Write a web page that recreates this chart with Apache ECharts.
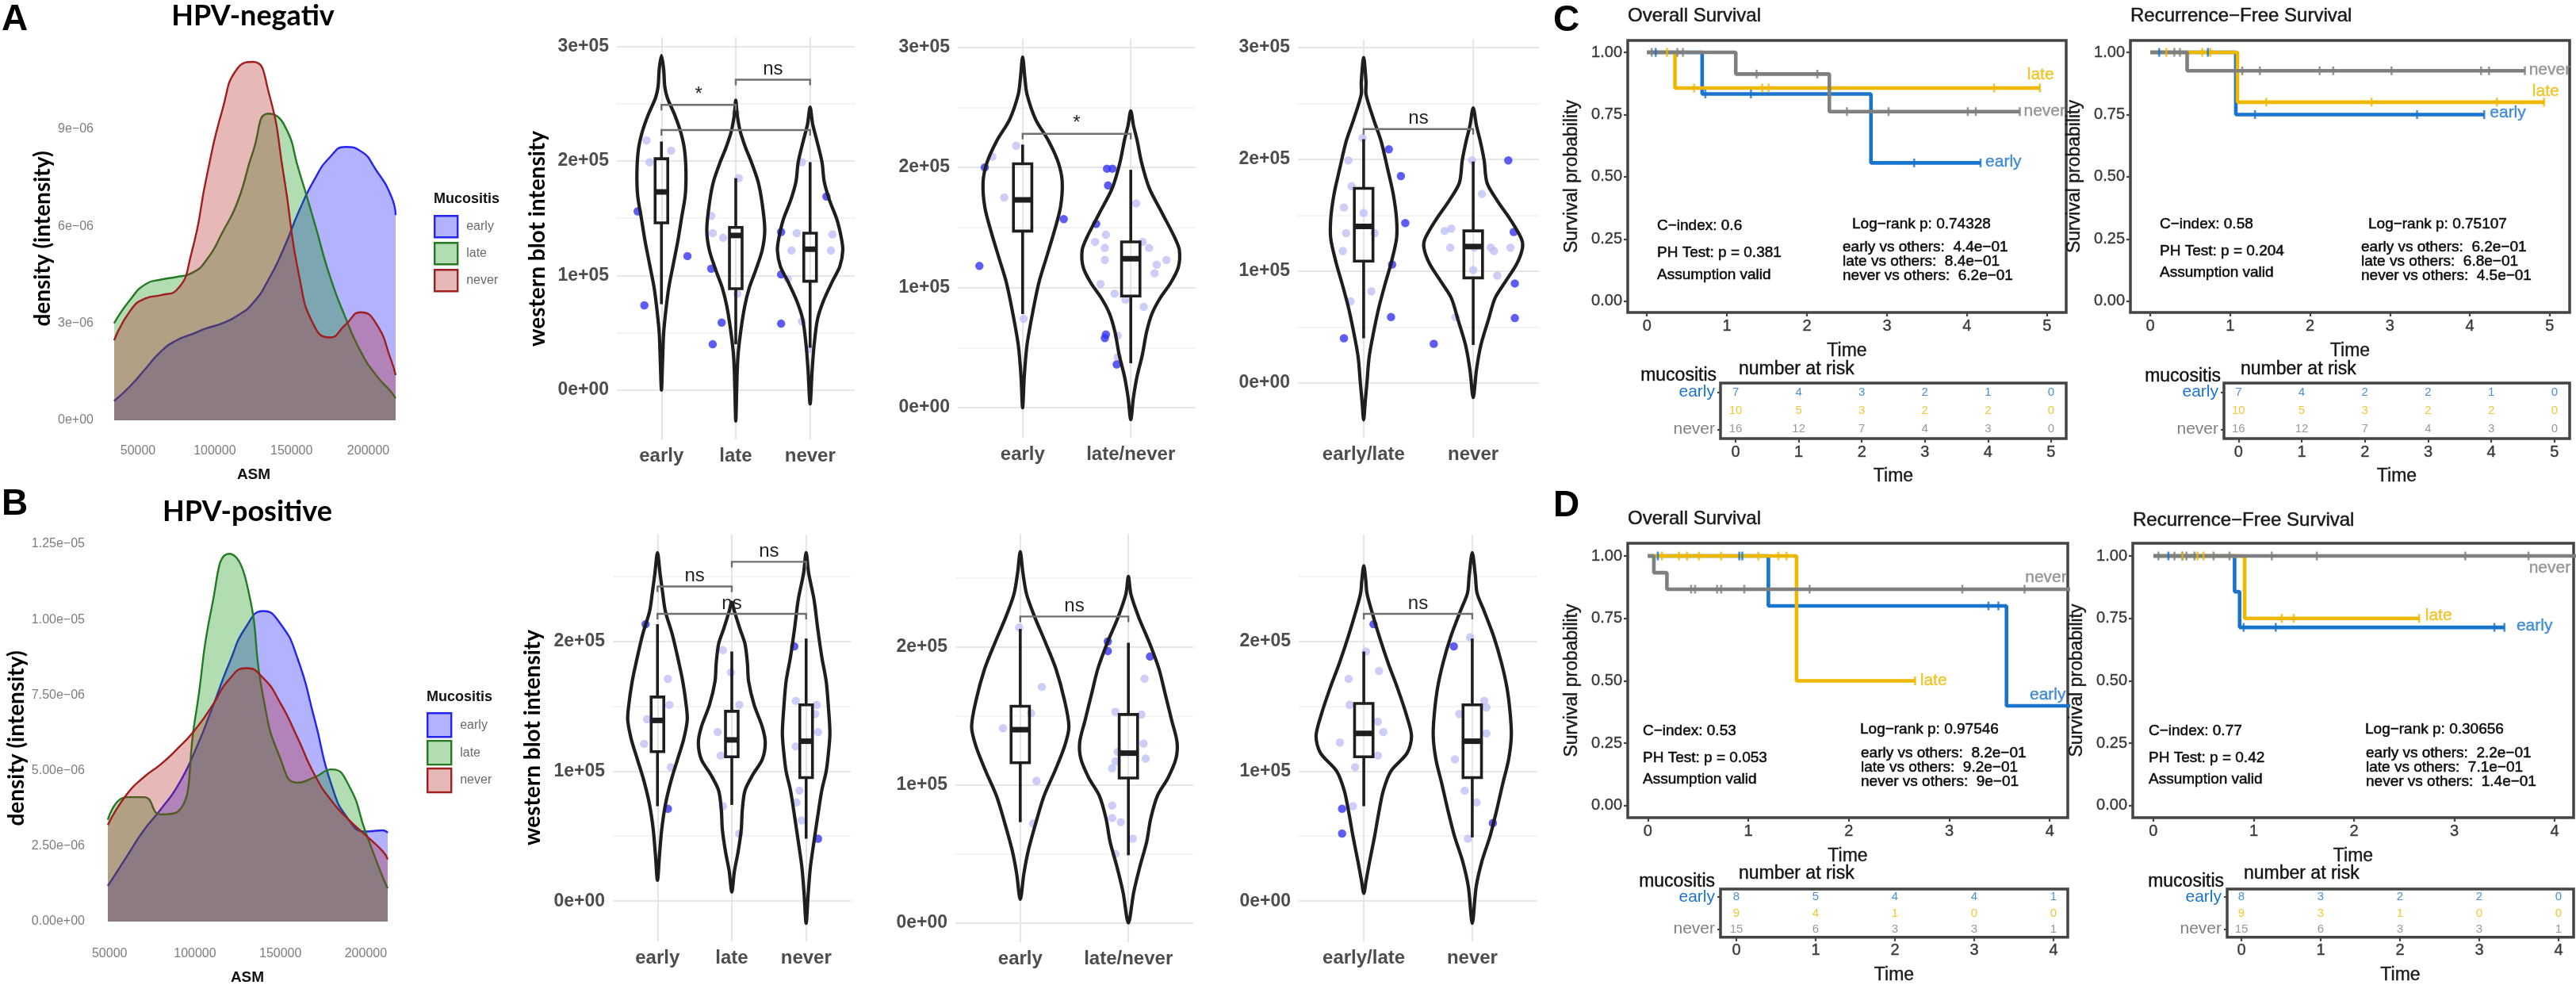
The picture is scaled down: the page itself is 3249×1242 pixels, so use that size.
<!DOCTYPE html>
<html><head><meta charset="utf-8">
<script src="https://cdn.jsdelivr.net/npm/echarts@6/dist/echarts.min.js"></script>
<style>html,body{margin:0;padding:0;background:#fff}#c{width:3249px;height:1242px}</style>
</head><body><div id="c"></div>
<script>
// ================= DATA =================
const mucoCats = ['early','late','never'];
// --- density (values in units of 1e-6) ---
const densXTicks = [50000,100000,150000,200000];
const densAx = [34500,45000,55000,65000,75000,85000,95000,105000,115000,125000,135000,145000,155000,165000,175000,185000,195000,205000,215000,217800];
const densA_early = [0.60,1.06,1.60,2.13,2.47,2.66,2.85,3.00,3.24,3.63,4.35,5.32,6.48,7.45,8.13,8.45,8.32,7.74,6.92,6.34];
const densA_late  = [3.00,3.73,4.21,4.35,4.43,4.55,4.98,5.81,6.77,8.32,9.48,9.15,7.69,6.10,4.45,3.19,2.13,1.40,0.87,0.68];
const densA_never = [2.47,3.39,3.77,3.87,4.02,5.20,7.60,9.60,10.89,11.08,10.16,7.55,4.45,2.90,2.56,2.95,3.34,3.00,1.84,1.40];
const densAyTicks = [0,3,6,9];
const densBx = [48970,60000,70000,80000,90000,100000,110000,120000,130000,140000,150000,160000,170000,180000,190000,200000,210000,212800];
const densB_early = [1.18,2.15,3.02,3.72,4.51,5.65,7.06,8.55,9.77,10.28,9.86,8.72,6.70,4.51,3.37,2.98,3.02,2.94];
const densB_late  = [3.37,4.12,4.12,3.55,3.64,6.70,10.47,12.18,11.26,7.41,5.39,4.60,4.78,5.04,4.51,2.94,1.45,1.10];
const densB_never = [3.20,4.21,4.78,5.21,5.74,6.35,7.14,8.02,8.39,8.06,7.23,6.09,4.86,3.99,3.37,2.85,2.32,2.06];
const densByTicks = [0,2.5,5,7.5,10,12.5];

// --- violins (y in units of 1e5, half-width in category units) ---
const violinYTicks = [0,1,2,3];
const vA1_cats = ['early','late','never'];
const vA1_early = [[2.92,0],[2.80,0.03],[2.65,0.045],[2.55,0.08],[2.40,0.18],[2.25,0.26],[2.10,0.31],[1.90,0.33],[1.70,0.32],[1.50,0.27],[1.30,0.22],[1.10,0.16],[0.90,0.10],[0.70,0.06],[0.50,0.03],[0.25,0.015],[0.00,0]];
const vA1_late = [[2.53,0],[2.40,0.02],[2.26,0.06],[2.12,0.13],[1.99,0.21],[1.82,0.30],[1.63,0.355],[1.40,0.39],[1.22,0.355],[1.05,0.27],[0.89,0.18],[0.73,0.12],[0.53,0.07],[0.34,0.035],[0.18,0.02],[0.00,0.012],[-0.27,0]];
const vA1_never = [[2.47,0],[2.32,0.035],[2.18,0.09],[1.99,0.16],[1.82,0.19],[1.66,0.26],[1.49,0.36],[1.33,0.42],[1.22,0.44],[1.08,0.40],[0.95,0.30],[0.78,0.18],[0.62,0.10],[0.40,0.055],[0.18,0.028],[-0.12,0]];
const vA1_box = [[0.75,1.46,1.73,2.02,2.17],[0.40,0.885,1.35,1.42,1.85],[0.37,0.95,1.23,1.37,1.99]];
const vA1_dark = [[0.68,1.56],[0.77,0.74],[1.35,1.17],[1.67,1.06],[1.69,0.40],[1.81,0.59],[2.61,1.38],[2.61,1.01],[2.61,0.58],[3.22,1.69]];
const vA1_light = [[0.80,2.18],[0.84,1.99],[1.13,2.09],[1.67,1.52],[1.69,1.37],[1.83,1.33],[2.04,1.85],[2.02,0.84],[2.00,2.42],[2.82,1.37],[2.75,1.22],[2.89,1.99],[2.89,0.60],[3.00,0.36],[3.30,1.36],[3.28,1.22],[2.70,0.97]];
const vA1_brackets = [[1,2,2.49,'*'],[2,3,2.71,'ns'],[1,3,2.27,'']];

const vA2_cats = ['early','late/never'];
const vA2_early = [[2.92,0],[2.75,0.02],[2.61,0.04],[2.40,0.12],[2.22,0.24],[2.04,0.33],[1.88,0.366],[1.67,0.35],[1.46,0.29],[1.25,0.22],[1.04,0.15],[0.78,0.09],[0.52,0.04],[0.26,0.015],[0.00,0]];
const vA2_latenever = [[2.47,0],[2.35,0.025],[2.22,0.06],[2.04,0.10],[1.83,0.17],[1.62,0.29],[1.41,0.41],[1.31,0.45],[1.17,0.44],[1.04,0.37],[0.91,0.27],[0.78,0.195],[0.63,0.146],[0.44,0.107],[0.26,0.058],[0.08,0.024],[-0.10,0]];
const vA2_box = [[0.78,1.47,1.73,2.03,2.19],[0.37,0.93,1.24,1.38,1.98]];
const vA2_dark = [[0.65,2.00],[0.60,1.18],[1.38,1.57],[1.78,1.99],[1.83,1.99],[1.79,1.85],[1.68,1.53],[1.77,0.61],[1.76,0.58],[1.87,0.36]];
const vA2_light = [[0.94,2.18],[0.72,2.09],[0.83,1.75],[1.01,0.74],[1.67,1.38],[1.77,1.44],[1.76,1.33],[1.76,1.23],[1.72,1.03],[1.85,0.95],[1.95,0.90],[2.05,1.70],[2.12,0.84],[2.17,1.33],[2.24,1.19],[2.33,1.23],[2.22,1.12],[1.88,0.60],[1.88,0.42],[2.11,1.38]];
const vA2_brackets = [[1,2,2.28,'*']];

const vA3_cats = ['early/late','never'];
const vA3_earlylate = [[2.91,0],[2.69,0.022],[2.58,0.022],[2.36,0.09],[2.16,0.16],[1.91,0.22],[1.69,0.27],[1.47,0.30],[1.29,0.30],[1.07,0.25],[0.90,0.20],[0.68,0.14],[0.45,0.09],[0.23,0.05],[0.00,0.03],[-0.16,0.015],[-0.33,0]];
const vA3_never = [[2.46,0],[2.30,0.03],[2.16,0.065],[1.99,0.10],[1.79,0.126],[1.63,0.22],[1.46,0.34],[1.29,0.44],[1.21,0.45],[1.07,0.40],[0.90,0.29],[0.76,0.20],[0.57,0.14],[0.34,0.07],[0.12,0.03],[-0.13,0]];
const vA3_box = [[0.40,1.09,1.40,1.74,2.18],[0.34,0.94,1.22,1.36,1.98]];
const vA3_dark = [[1.23,2.09],[1.34,1.85],[1.38,1.43],[1.26,1.06],[1.25,0.59],[1.64,0.35],[2.32,1.99],[2.37,1.35],[2.38,0.89],[2.38,0.58],[0.82,0.40]];
const vA3_light = [[0.86,1.99],[0.82,1.57],[0.84,1.34],[0.81,1.18],[0.88,0.73],[0.99,2.19],[0.89,1.76],[1.00,1.52],[1.10,1.34],[1.07,0.82],[1.74,1.36],[1.80,1.38],[1.79,1.21],[1.84,0.59],[1.99,1.99],[2.08,1.69],[2.01,1.21],[2.00,1.01],[2.16,1.21],[2.19,1.18],[2.22,0.96],[2.34,1.21]];
const vA3_brackets = [[1,2,2.27,'ns']];

const vB1_cats = ['early','late','never'];
const vB1_early = [[2.68,0],[2.52,0.035],[2.37,0.07],[2.23,0.106],[2.05,0.20],[1.88,0.27],[1.69,0.34],[1.49,0.39],[1.39,0.40],[1.24,0.35],[1.09,0.27],[0.92,0.18],[0.74,0.106],[0.55,0.057],[0.36,0.028],[0.16,0]];
const vB1_late = [[2.30,0],[2.23,0.035],[2.10,0.106],[1.98,0.177],[1.83,0.21],[1.69,0.226],[1.51,0.30],[1.34,0.41],[1.22,0.45],[1.09,0.41],[0.97,0.28],[0.85,0.177],[0.70,0.141],[0.55,0.127],[0.38,0.085],[0.23,0.035],[0.07,0]];
const vB1_never = [[2.68,0],[2.52,0.035],[2.32,0.106],[2.10,0.155],[1.88,0.21],[1.69,0.27],[1.49,0.30],[1.29,0.32],[1.14,0.30],[1.00,0.27],[0.85,0.21],[0.65,0.155],[0.46,0.106],[0.26,0.057],[0.06,0.028],[-0.17,0]];
const vB1_box = [[0.73,1.15,1.39,1.57,2.13],[0.74,1.11,1.24,1.46,1.92],[0.48,0.95,1.23,1.51,2.02]];
const vB1_dark = [[0.84,2.13],[1.14,0.71],[2.84,1.96],[3.16,0.48]];
const vB1_light = [[1.14,1.71],[1.16,1.51],[0.86,1.40],[0.82,1.21],[1.18,1.03],[1.88,1.93],[1.99,1.76],[2.10,1.51],[1.81,1.30],[1.85,1.12],[1.88,0.73],[2.10,0.52],[2.86,1.54],[3.14,1.51],[3.12,1.44],[3.16,1.30],[2.86,1.19],[2.91,0.85],[2.87,0.76],[2.94,0.62]];
const vB1_brackets = [[1,2,2.42,'ns'],[2,3,2.61,'ns'],[1,3,2.21,'ns']];

const vB2_cats = ['early','late/never'];
const vB2_early = [[2.69,0],[2.54,0.024],[2.38,0.059],[2.21,0.137],[2.03,0.234],[1.84,0.33],[1.61,0.41],[1.42,0.45],[1.28,0.41],[1.10,0.32],[0.92,0.22],[0.73,0.146],[0.52,0.073],[0.36,0.034],[0.17,0]];
const vB2_latenever = [[2.51,0],[2.38,0.024],[2.21,0.098],[2.03,0.195],[1.84,0.283],[1.66,0.34],[1.47,0.40],[1.31,0.45],[1.19,0.44],[1.05,0.366],[0.92,0.268],[0.75,0.205],[0.59,0.17],[0.41,0.107],[0.22,0.049],[0.00,0]];
const vB2_box = [[0.73,1.16,1.40,1.57,2.13],[0.49,1.05,1.23,1.51,2.03]];
const vB2_dark = [[1.81,2.04],[1.81,1.97],[2.20,1.93]];
const vB2_light = [[0.99,2.14],[1.20,1.71],[1.10,1.52],[0.84,1.41],[1.15,1.03],[1.12,0.72],[2.15,1.77],[1.88,1.53],[2.12,1.51],[2.14,1.30],[1.90,1.24],[2.16,1.19],[1.88,1.17],[1.85,1.12],[1.85,0.85],[1.85,0.76],[1.93,0.73],[2.04,0.61],[1.88,0.50]];
const vB2_brackets = [[1,2,2.22,'ns']];

const vB3_cats = ['early/late','never'];
const vB3_earlylate = [[2.58,0],[2.47,0.018],[2.37,0.029],[2.23,0.073],[2.03,0.145],[1.83,0.225],[1.64,0.31],[1.44,0.39],[1.27,0.44],[1.14,0.40],[1.00,0.25],[0.85,0.18],[0.68,0.138],[0.50,0.10],[0.31,0.055],[0.16,0.022],[0.06,0]];
const vB3_never = [[2.68,0],[2.50,0.029],[2.37,0.044],[2.23,0.11],[2.03,0.20],[1.83,0.27],[1.64,0.32],[1.44,0.35],[1.27,0.36],[1.09,0.335],[0.90,0.28],[0.70,0.225],[0.50,0.164],[0.31,0.09],[0.11,0.036],[-0.17,0]];
const vB3_box = [[0.73,1.11,1.29,1.52,1.92],[0.49,0.95,1.23,1.51,2.02]];
const vB3_dark = [[1.09,2.13],[1.83,1.96],[2.19,0.60],[0.80,0.71],[0.80,0.52]];
const vB3_light = [[1.02,1.92],[1.14,1.77],[0.86,1.71],[0.87,1.51],[1.13,1.38],[1.18,1.30],[1.13,1.12],[0.92,1.03],[0.90,0.73],[0.78,1.22],[1.98,2.03],[1.88,1.44],[2.11,1.54],[2.13,1.49],[2.13,1.29],[1.84,1.09],[1.93,0.85],[2.04,0.76],[1.96,0.48]];
const vB3_brackets = [[1,2,2.21,'ns']];

// --- Kaplan-Meier curves [time, survival] ---
const kmYTicks = [0,0.25,0.5,0.75,1];
const kmXTicks5 = [0,1,2,3,4,5];
const kmXTicks4 = [0,1,2,3,4];
const cOS_early = [[0,1],[0.69,0.833],[2.80,0.556],[4.17,0.556]];
const cOS_late = [[0,1],[0.35,0.857],[4.91,0.857]];
const cOS_never = [[0,1],[1.11,0.913],[2.28,0.762],[4.66,0.762]];
const cOS_early_c = [[0.11,1],[0.73,0.833],[1.30,0.833],[3.34,0.556],[4.17,0.556]];
const cOS_late_c = [[0.25,1],[0.59,0.857],[1.44,0.857],[1.52,0.857],[4.34,0.857],[4.91,0.857]];
const cOS_never_c = [[0.06,1],[0.38,1],[0.45,1],[1.37,0.913],[2.13,0.913],[2.50,0.762],[3.02,0.762],[4.01,0.762],[4.11,0.762],[4.66,0.762]];
const cOS_labels = [[4.92,0.911,'late','center'],[4.71,0.764,'never','left'],[4.23,0.561,'early','left']];
const cOS_stats = ['C\u2212index: 0.6','PH Test: p = 0.381','Assumption valid','Log\u2212rank p: 0.74328','early vs others:  4.4e\u221201','late vs others:  8.4e\u221201','never vs others:  6.2e\u221201'];

const cRFS_early = [[0,1],[1.07,0.75],[4.18,0.75]];
const cRFS_late = [[0,1],[1.09,0.80],[4.93,0.80]];
const cRFS_never = [[0,1],[0.46,0.926],[4.69,0.926]];
const cRFS_early_c = [[0.11,1],[0.72,1],[1.31,0.75],[3.34,0.75],[4.18,0.75]];
const cRFS_late_c = [[0.20,1],[0.65,1],[0.75,1],[1.45,0.80],[2.77,0.80],[4.34,0.80],[4.93,0.80]];
const cRFS_never_c = [[0.30,1],[0.37,1],[1.15,0.926],[1.37,0.926],[2.12,0.926],[2.29,0.926],[3.02,0.926],[4.14,0.926],[4.24,0.926],[4.69,0.926]];
const cRFS_labels = [[4.74,0.93,'never','left'],[4.95,0.845,'late','center'],[4.25,0.758,'early','left']];
const cRFS_stats = ['C\u2212index: 0.58','PH Test: p = 0.204','Assumption valid','Log\u2212rank p: 0.75107','early vs others:  6.2e\u221201','late vs others:  6.8e\u221201','never vs others:  4.5e\u221201'];

const dOS_early = [[0,1],[1.20,0.8],[3.57,0.4],[4.4,0.4]];
const dOS_late = [[0,1],[1.48,0.5],[2.66,0.5]];
const dOS_never = [[0,1],[0.06,0.933],[0.19,0.867],[4.4,0.867]];
const dOS_early_c = [[0.10,1],[0.91,1],[0.94,1],[3.39,0.8],[3.49,0.8]];
const dOS_late_c = [[0.14,1],[0.31,1],[0.39,1],[0.51,1],[0.73,1],[1.10,1],[1.30,1],[1.38,1],[2.66,0.5]];
const dOS_never_c = [[0.43,0.867],[0.47,0.867],[0.69,0.867],[0.73,0.867],[0.96,0.867],[1.61,0.867],[3.13,0.867],[3.75,0.867]];
const dOS_labels = [[4.17,0.915,'never','right'],[4.16,0.445,'early','right'],[2.71,0.50,'late','left']];
const dOS_stats = ['C\u2212index: 0.53','PH Test: p = 0.053','Assumption valid','Log\u2212rank p: 0.97546','early vs others:  8.2e\u221201','late vs others:  9.2e\u221201','never vs others:  9e\u221201'];

const dRFS_early = [[0,1],[0.81,0.857],[0.86,0.714],[3.50,0.714]];
const dRFS_late = [[0,1],[0.91,0.75],[2.65,0.75]];
const dRFS_never = [[0,1],[4.4,1]];
const dRFS_early_c = [[0.15,1],[0.29,1],[0.90,0.714],[1.22,0.714],[3.40,0.714],[3.50,0.714]];
const dRFS_late_c = [[0.29,1],[0.44,1],[0.50,1],[1.28,0.75],[1.40,0.75],[2.65,0.75]];
const dRFS_never_c = [[0.05,1],[0.21,1],[0.33,1],[0.41,1],[0.60,1],[0.76,1],[1.18,1],[1.63,1],[3.11,1],[3.74,1]];
const dRFS_labels = [[4.16,0.953,'never','right'],[2.71,0.76,'late','left'],[3.62,0.72,'early','left']];
const dRFS_stats = ['C\u2212index: 0.77','PH Test: p = 0.42','Assumption valid','Log\u2212rank p: 0.30656','early vs others:  2.2e\u221201','late vs others:  7.1e\u221201','never vs others:  1.4e\u221201'];

// --- number at risk ---
const riskC_OS = {early:[7,4,3,2,1,0], late:[10,5,3,2,2,0], never:[16,12,7,4,3,0]};
const riskC_RFS = {early:[7,4,2,2,1,0], late:[10,5,3,2,2,0], never:[16,12,7,4,3,0]};
const riskD_OS = {early:[8,5,4,4,1], late:[9,4,1,0,0], never:[15,6,3,3,1]};
const riskD_RFS = {early:[8,3,2,2,0], late:[9,3,1,0,0], never:[15,6,3,3,1]};

// ================= STYLE / BUILD =================
const FF = 'Liberation Sans';
const KMC = {early:'#1874CD', late:'#EFB800', never:'#7F7F7F'};
const DC = {early:{line:'#2424EE', fill:'rgba(0,0,255,0.30)'}, late:{line:'#237A23', fill:'rgba(0,140,0,0.30)'}, never:{line:'#A21E1E', fill:'rgba(178,34,34,0.32)'}};

const grids=[], xAxes=[], yAxes=[], series=[], graphics=[], legends=[];
function addGrid(box, xa, ya){
  grids.push(Object.assign({left:box[0], top:box[1], width:box[2], height:box[3], containLabel:false}, box[4]||{}));
  const i = grids.length-1;
  xAxes.push(Object.assign({gridIndex:i, type:'value', axisLine:{show:false,onZero:false}, splitLine:{show:false}, axisTick:{show:false}}, xa));
  yAxes.push(Object.assign({gridIndex:i, type:'value', axisLine:{show:false,onZero:false}, splitLine:{show:false}, axisTick:{show:false}}, ya));
  return i;
}
function txt(x,y,text,font,fill,align,vAlign,rot,strokeW){
  const st = {text:text, font:font, fill:fill||'#000', align:align||'left', verticalAlign:vAlign||'middle', textAlign:align||'left', textVerticalAlign:vAlign||'middle'};
  if (strokeW) { st.stroke = fill||'#000'; st.lineWidth = strokeW; }
  const e = {type:'text', x:x, y:y, z:100, silent:true, style:st};
  if (rot) e.rotation = rot;
  graphics.push(e);
}

// ---------- density panels ----------
function densityPanel(box, xs, sets, yMax, yTicks, yFmt, xMarg, yMarg){
  const gi = addGrid(box,
    {min:xs[0], max:xs[xs.length-1], axisLabel:{customValues:densXTicks, margin:xMarg, color:'#7d7d7d', fontSize:16, fontFamily:FF, formatter:v=>String(v)}},
    {min:0, max:yMax, axisLabel:{customValues:yTicks, margin:yMarg, color:'#7d7d7d', fontSize:16, fontFamily:FF, formatter:yFmt}});
  mucoCats.forEach((c,k)=>{
    series.push({name:c, type:'line', xAxisIndex:gi, yAxisIndex:gi, smooth:0.55, showSymbol:false, symbol:'none', z:2+k,
      lineStyle:{color:DC[c].line, width:2.4}, itemStyle:{color:DC[c].line}, areaStyle:{color:DC[c].fill, opacity:1},
      data: xs.map((x,j)=>[x, sets[k][j]])});
  });
}
densityPanel([144,51,355,479], densAx, [densA_early,densA_late,densA_never], 11.74, densAyTicks,
  v => v===0 ? '0e+00' : v+'e\u221206', 31, 26);
densityPanel([136,675,353,487], densBx, [densB_early,densB_late,densB_never], 12.79, densByTicks,
  v => (v*1e-6).toExponential(2).replace(/e([+-])(\d)$/, (m,s,d)=>'e'+(s==='-'?'\u2212':'+')+'0'+d), 33, 29);

function densLegend(left, top, w, h, gap){
  legends.push({left:left, top:top, orient:'vertical', itemWidth:w, itemHeight:h, itemGap:gap, padding:0, selectedMode:false,
    textStyle:{fontSize:16, color:'#6a6a6a', fontFamily:FF, padding:[0,0,0,6]},
    data: mucoCats.map(c=>({name:c, icon:'rect', itemStyle:{color:DC[c].fill, borderColor:DC[c].line, borderWidth:2.4}}))});
}
densLegend(547, 271, 29, 27, 4.6);
densLegend(538, 898, 30, 30, 2.5);

// ---------- violin panels ----------
function violinRender(profiles, boxes, bw){
  return function(params, api){
    const i = params.dataIndex, cx = i+1, prof = profiles[i], b = boxes[i];
    const pts = [];
    for (const [y,hw] of prof) pts.push(api.coord([cx+hw,y]));
    for (let k=prof.length-2;k>=1;k--) pts.push(api.coord([cx-prof[k][1], prof[k][0]]));
    const p = (x,y)=>api.coord([x,y]);
    const tl = p(cx-bw,b[3]), br = p(cx+bw,b[1]);
    const q3 = p(cx,b[3]), hi = p(cx,b[4]), q1 = p(cx,b[1]), lo = p(cx,b[0]);
    const ml = p(cx-bw,b[2]), mr = p(cx+bw,b[2]);
    const S = {stroke:'#1e1e1e', lineWidth:4.2, fill:'none'};
    const SB = {stroke:'#1e1e1e', lineWidth:3.6, fill:'none'};
    return {type:'group', children:[
      {type:'polygon', shape:{points:pts, smooth:0.3}, style:S},
      {type:'line', shape:{x1:q3[0],y1:q3[1],x2:hi[0],y2:hi[1]}, style:SB},
      {type:'line', shape:{x1:q1[0],y1:q1[1],x2:lo[0],y2:lo[1]}, style:SB},
      {type:'rect', shape:{x:tl[0],y:tl[1],width:br[0]-tl[0],height:br[1]-tl[1]}, style:SB},
      {type:'line', shape:{x1:ml[0],y1:ml[1],x2:mr[0],y2:mr[1]}, style:{stroke:'#1e1e1e', lineWidth:7}}
    ]};
  };
}
function bracketRender(brs){
  return function(params, api){
    const b = brs[params.dataIndex];
    const a = api.coord([b[0],b[2]]), c = api.coord([b[1],b[2]]), tip = 7;
    const ch = [{type:'polyline', shape:{points:[[a[0],a[1]+tip],a,c,[c[0],c[1]+tip]]}, style:{stroke:'#707070', lineWidth:2.4, fill:'none'}}];
    if (b[3]) ch.push({type:'text', x:(a[0]+c[0])/2, y:a[1]-1, style:{text:b[3], fill:'#222', font:'24px "'+FF+'"', align:'center', verticalAlign:'bottom'}});
    return {type:'group', children:ch};
  };
}
function violinPanel(box, cats, yMin, yMax, profiles, boxes, dark, light, brackets){
  const n = cats.length;
  const ticks = violinYTicks.filter(v=>v<=yMax);
  const gi = addGrid(box,
    {min:0.4, max:n+0.6, axisLabel:{customValues:cats.map((c,i)=>i+1), formatter:v=>cats[Math.round(v)-1], margin:9, color:'#4d4d4d', fontSize:24, fontWeight:'bold', fontFamily:FF}},
    {min:yMin, max:yMax, axisLabel:{customValues:ticks, formatter:v=> v===0?'0e+00':v+'e+05', margin:10, color:'#4d4d4d', fontSize:23, fontWeight:'bold', fontFamily:FF}});
  const ml = [];
  ticks.forEach(v=>ml.push({yAxis:v, lineStyle:{color:'#e6e6e6', width:2.2, type:'solid'}}));
  [0.5,1.5,2.5].filter(v=>v<yMax && v>yMin).forEach(v=>ml.push({yAxis:v, lineStyle:{color:'#f0f0f0', width:1.6, type:'solid'}}));
  cats.forEach((c,i)=>ml.push({xAxis:i+1, lineStyle:{color:'#e6e6e6', width:2.2, type:'solid'}}));
  series.push({type:'scatter', name:'grid'+gi, xAxisIndex:gi, yAxisIndex:gi, data:[[1,0]], symbolSize:0, silent:true, z:1,
    itemStyle:{color:'rgba(0,0,0,0)'},
    markLine:{silent:true, z:0, symbol:['none','none'], animation:false, label:{show:false}, data:ml}});
  series.push({type:'scatter', name:'lt'+gi, xAxisIndex:gi, yAxisIndex:gi, data:light, symbolSize:10.5, z:2, itemStyle:{color:'#c0c0f8'}});
  series.push({type:'scatter', name:'dk'+gi, xAxisIndex:gi, yAxisIndex:gi, data:dark, symbolSize:10.5, z:2, itemStyle:{color:'#3434f2'}});
  series.push({type:'custom', name:'vio'+gi, xAxisIndex:gi, yAxisIndex:gi, z:6, clip:false, data:cats.map((c,i)=>[i+1,0]),
    renderItem:violinRender(profiles, boxes, 0.085)});
  series.push({type:'custom', name:'br'+gi, xAxisIndex:gi, yAxisIndex:gi, z:7, clip:false, data:brackets.map((b,i)=>[b[0],b[2]]),
    renderItem:bracketRender(brackets)});
}
violinPanel([778,47,300,507], vA1_cats, -0.43, 3.08, [vA1_early,vA1_late,vA1_never], vA1_box, vA1_dark, vA1_light, vA1_brackets);
violinPanel([1208,49,300,503], vA2_cats, -0.25, 3.07, [vA2_early,vA2_latenever], vA2_box, vA2_dark, vA2_light, vA2_brackets);
violinPanel([1637,50,304,502], vA3_cats, -0.49, 3.07, [vA3_earlylate,vA3_never], vA3_box, vA3_dark, vA3_light, vA3_brackets);
violinPanel([773,674,300,513], vB1_cats, -0.31, 2.82, [vB1_early,vB1_late,vB1_never], vB1_box, vB1_dark, vB1_light, vB1_brackets);
violinPanel([1205,673,300,515], vB2_cats, -0.14, 2.82, [vB2_early,vB2_latenever], vB2_box, vB2_dark, vB2_light, vB2_brackets);
violinPanel([1638,674,301,513], vB3_cats, -0.31, 2.82, [vB3_earlylate,vB3_never], vB3_box, vB3_dark, vB3_light, vB3_brackets);

// ---------- KM panels ----------
const tickStyle = {show:true, length:5, lineStyle:{color:'#444', width:2.2}};
const lblTS = {fontSize:20, color:'#3a3a3a', fontFamily:FF, textBorderColor:'#3a3a3a', textBorderWidth:0.4};
const nameTS = {fontSize:23, color:'#1a1a1a', fontFamily:FF, textBorderColor:'#1a1a1a', textBorderWidth:0.4};
function kmPanel(box, xr, yr, xt, curves, censors, labels){
  const gi = addGrid([box[0],box[1],box[2],box[3],{show:true, borderColor:'#444', borderWidth:3.5, backgroundColor:'rgba(0,0,0,0)'}],
    {min:xr[0], max:xr[1], name:'Time', nameLocation:'middle', nameGap:37, nameTextStyle:nameTS,
     axisTick:Object.assign({customValues:xt}, tickStyle), axisLabel:Object.assign({customValues:xt, margin:7}, lblTS)},
    {min:yr[0], max:yr[1], name:'Survival probability', nameLocation:'middle', nameGap:59, nameTextStyle:nameTS,
     axisTick:Object.assign({customValues:kmYTicks}, tickStyle), axisLabel:Object.assign({customValues:kmYTicks, formatter:v=>v.toFixed(2), margin:7}, lblTS)});
  mucoCats.forEach((c,k)=>{
    series.push({type:'line', name:'km'+gi+c, xAxisIndex:gi, yAxisIndex:gi, step:'end', symbol:'none', showSymbol:false, clip:true, z:3,
      lineStyle:{color:KMC[c], width:4.6}, itemStyle:{color:KMC[c]}, data:curves[k]});
    series.push({type:'scatter', name:'cs'+gi+c, xAxisIndex:gi, yAxisIndex:gi, symbol:'rect', symbolSize:[2.6,11], z:4,
      itemStyle:{color:KMC[c]}, data:censors[k]});
  });
  series.push({type:'scatter', name:'lb'+gi, xAxisIndex:gi, yAxisIndex:gi, symbolSize:1, z:5, itemStyle:{color:'rgba(0,0,0,0)'},
    data:labels.map(l=>({value:[l[0],l[1]], name:l[2], label:{show:true, position:'inside', align:l[3], verticalAlign:'middle',
      formatter:l[2], color:KMC[l[2]], fontSize:21, fontFamily:FF, textBorderColor:KMC[l[2]], textBorderWidth:0.4}}))});
}
function riskTable(box, xr, xt, risk){
  const rows = ['never','late','early'];
  const gi = addGrid([box[0],box[1],box[2],box[3],{show:true, borderColor:'#444', borderWidth:3.5, backgroundColor:'rgba(0,0,0,0)'}],
    {min:xr[0], max:xr[1], name:'Time', nameLocation:'middle', nameGap:36, nameTextStyle:nameTS,
     axisTick:Object.assign({customValues:xt}, tickStyle), axisLabel:Object.assign({customValues:xt, margin:7}, lblTS)},
    {type:'category', data:rows, axisTick:{show:true, alignWithLabel:true, length:4, lineStyle:{color:'#444', width:2}},
     axisLabel:{margin:7, fontSize:21, fontFamily:FF, color:(v)=>KMC[v]}});
  rows.forEach(r=>{
    series.push({type:'scatter', name:'rt'+gi+r, xAxisIndex:gi, yAxisIndex:gi, symbolSize:1, z:5, itemStyle:{color:'rgba(0,0,0,0)'},
      data:risk[r].map((n,k)=>[xt[k], r, n]),
      label:{show:true, position:'inside', formatter:p=>String(p.value[2]), color:KMC[r], fontSize:15, fontFamily:FF}});
  });
}
kmPanel([2053,51,553,343], [-0.24,5.24], [-0.045,1.048], kmXTicks5, [cOS_early,cOS_late,cOS_never], [cOS_early_c,cOS_late_c,cOS_never_c], cOS_labels);
kmPanel([2687,51,554,343], [-0.25,5.25], [-0.045,1.048], kmXTicks5, [cRFS_early,cRFS_late,cRFS_never], [cRFS_early_c,cRFS_late_c,cRFS_never_c], cRFS_labels);
kmPanel([2053,685,555,346], [-0.2,4.18], [-0.048,1.051], kmXTicks4, [dOS_early,dOS_late,dOS_never], [dOS_early_c,dOS_late_c,dOS_never_c], dOS_labels);
kmPanel([2690,685,556,346], [-0.205,4.19], [-0.048,1.051], kmXTicks4, [dRFS_early,dRFS_late,dRFS_never], [dRFS_early_c,dRFS_late_c,dRFS_never_c], dRFS_labels);
riskTable([2170,483,436,70], [-0.24,5.24], kmXTicks5, riskC_OS);
riskTable([2805,483,436,70], [-0.23,5.24], kmXTicks5, riskC_RFS);
riskTable([2170,1121,438,70], [-0.2,4.18], kmXTicks4, riskD_OS);
riskTable([2809,1121,437,70], [-0.18,4.19], kmXTicks4, riskD_RFS);

// ---------- free text ----------
const bigF = 'bold 46px "'+FF+'"';
txt(2,25,'A',bigF); txt(2,636,'B',bigF); txt(1959,26,'C',bigF); txt(1959,638,'D',bigF);
txt(319,20,'HPV-negativ','bold 36px Lato','#000','center');
txt(312,645,'HPV-positive','bold 36px Lato','#000','center');
txt(54,301,'density (intensity)','bold 28px Lato','#000','center','middle',Math.PI/2);
txt(21,931,'density (intensity)','bold 28px Lato','#000','center','middle',Math.PI/2);
txt(678,301,'western blot intensity','bold 28px Lato','#000','center','middle',Math.PI/2);
txt(672,930,'western blot intensity','bold 28px Lato','#000','center','middle',Math.PI/2);
txt(320,599,'ASM','bold 19px "'+FF+'"','#111','center');
txt(312,1233,'ASM','bold 19px "'+FF+'"','#111','center');
txt(547,251,'Mucositis','bold 18px "'+FF+'"','#111');
txt(538,879,'Mucositis','bold 18px "'+FF+'"','#111');
const kmT = '24px "'+FF+'"';
txt(2053,20,'Overall Survival',kmT,'#1a1a1a','left','middle',0,0.5); txt(2687,20,'Recurrence\u2212Free Survival',kmT,'#1a1a1a','left','middle',0,0.5);
txt(2053,654,'Overall Survival',kmT,'#1a1a1a','left','middle',0,0.5); txt(2690,656,'Recurrence\u2212Free Survival',kmT,'#1a1a1a','left','middle',0,0.5);
function stats(s, lx, ly, rx, rlx, ry){
  const f = '19px "'+FF+'"', c = '#0a0a0a', w = 0.5;
  txt(lx, ly[0], s[0], f, c,'left','middle',0,w); txt(lx, ly[1], s[1], f, c,'left','middle',0,w); txt(lx, ly[2], s[2], f, c,'left','middle',0,w);
  txt(rx, ry[0], s[3], f, c,'left','middle',0,w); txt(rlx, ry[1], s[4], f, c,'left','middle',0,w); txt(rlx, ry[2], s[5], f, c,'left','middle',0,w); txt(rlx, ry[3], s[6], f, c,'left','middle',0,w);
}
stats(cOS_stats, 2090, [285,319,347], 2336, 2324, [283,312,330,348]);
stats(cRFS_stats, 2724, [283,317,344], 2987, 2978, [283,312,330,348]);
stats(dOS_stats, 2072, [922,956,983], 2346, 2347, [920,950,968,986]);
stats(dRFS_stats, 2710, [922,956,983], 2983, 2984, [920,950,968,986]);
const rF = '23px "'+FF+'"';
txt(2165,474,'mucositis',rF,'#111','right','middle',0,0.4); txt(2193,466,'number at risk',rF,'#111','left','middle',0,0.4);
txt(2801,475,'mucositis',rF,'#111','right','middle',0,0.4); txt(2826,466,'number at risk',rF,'#111','left','middle',0,0.4);
txt(2163,1112,'mucositis',rF,'#111','right','middle',0,0.4); txt(2193,1102,'number at risk',rF,'#111','left','middle',0,0.4);
txt(2805,1112,'mucositis',rF,'#111','right','middle',0,0.4); txt(2830,1102,'number at risk',rF,'#111','left','middle',0,0.4);

const chart = echarts.init(document.getElementById('c'), null, {renderer:'canvas', width:3249, height:1242});
chart.setOption({
  animation:false, backgroundColor:'#fff',
  textStyle:{fontFamily:FF},
  grid:grids, xAxis:xAxes, yAxis:yAxes, series:series, legend:legends, graphic:{elements:graphics}
});
</script></body></html>
